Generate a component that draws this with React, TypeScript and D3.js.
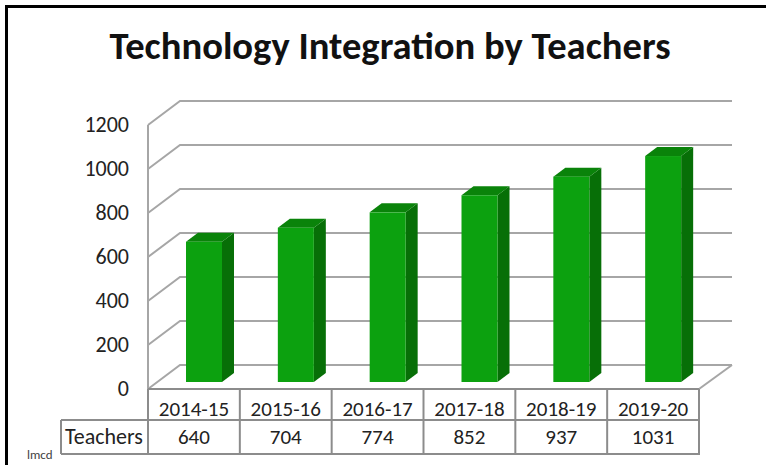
import React from 'react';
import * as d3 from 'd3';

const years = ['2014-15', '2015-16', '2016-17', '2017-18', '2018-19', '2019-20'];
const teachers = [640, 704, 774, 852, 937, 1031];
const yTicks = [0, 200, 400, 600, 800, 1000, 1200];

const W = 766;
const H = 465;
const FONT = 'Calibri, Carlito, "Open Sans", "Noto Sans", sans-serif';

// 3d box offsets
const wallDx = 32;
const wallDy = -24;
const barDx = 12;
const barDy = -9;
const barW = 36;
const barOffset = 38;

const x = d3.scaleBand<string>().domain(years).range([148, 699]);
const yFront = d3.scaleLinear().domain([0, 1200]).range([389, 125]);
const yBar = d3.scaleLinear().domain([0, 1200]).range([382, 119]);

const gridColor = '#a6a6a6';
const tableColor = '#8c8c8c';

export default function App() {
  const x0 = x.range()[0];
  const x1 = x.range()[1];
  const tableTop = 389;
  const tableMid = 420;
  const tableBottom = 454;
  const tableLeft = 61;

  return (
    <svg
      width={W}
      height={H}
      style={{ position: 'absolute', left: 0, top: 0, background: '#fff' }}
      fontFamily={FONT}
    >
      <rect x={0} y={0} width={W} height={H} fill="#fff" />

      <text x={390} y={59} textAnchor="middle" fontSize={38.6} fontWeight="bold" fill="#111">
        Technology Integration by Teachers
      </text>

      {/* walls and gridlines */}
      <g fill="none" stroke={gridColor} strokeWidth={2}>
        {yTicks.map((t) => (
          <polyline
            key={t}
            points={`${x0},${yFront(t)} ${x0 + wallDx},${yFront(t) + wallDy} ${x1 + wallDx + 1},${yFront(t) + wallDy}`}
          />
        ))}
        <line x1={x0} x2={x0} y1={yFront(0)} y2={yFront(1200)} />
        <line x1={x1} y1={yFront(0)} x2={x1 + wallDx + 1} y2={yFront(0) + wallDy} />
      </g>

      {yTicks.map((t) => (
        <text key={t} x={129} y={yFront(t) + 7} textAnchor="end" fontSize={22} fill="#222">
          {t}
        </text>
      ))}

      {/* bars */}
      {years.map((yr, i) => {
        const bx = (x(yr) as number) + barOffset;
        const top = yBar(teachers[i]);
        const base = yBar(0);
        return (
          <g key={yr}>
            <polygon
              points={`${bx + barW},${top} ${bx + barW + barDx},${top + barDy} ${bx + barW + barDx},${base + barDy} ${bx + barW},${base}`}
              fill="#076f07"
            />
            <polygon
              points={`${bx},${top} ${bx + barDx},${top + barDy} ${bx + barW + barDx},${top + barDy} ${bx + barW},${top}`}
              fill="#0a830a"
            />
            <rect x={bx} y={top} width={barW} height={base - top} fill="#0ca10f" />
          </g>
        );
      })}

      {/* data table */}
      <g fill="none" stroke={tableColor} strokeWidth={2}>
        <line x1={x0} x2={x1} y1={tableTop} y2={tableTop} />
        <line x1={tableLeft} x2={x1 + 1} y1={tableMid} y2={tableMid} />
        <line x1={tableLeft} x2={x1 + 1} y1={tableBottom} y2={tableBottom} />
        <line x1={tableLeft} x2={tableLeft} y1={tableMid} y2={tableBottom} />
        <line x1={x0} x2={x0} y1={tableTop} y2={tableBottom} />
        {years.map((yr) => {
          const right = (x(yr) as number) + x.bandwidth();
          return <line key={yr} x1={right} x2={right} y1={tableTop} y2={tableBottom} />;
        })}
      </g>
      {years.map((yr, i) => {
        const cx = (x(yr) as number) + x.bandwidth() / 2;
        return (
          <g key={yr} fontSize={21} fill="#222" textAnchor="middle">
            <text x={cx} y={416}>{yr}</text>
            <text x={cx} y={444}>{teachers[i]}</text>
          </g>
        );
      })}
      <text x={65} y={444} fontSize={22} fill="#222">Teachers</text>
      <text x={27} y={459} fontSize={13} fill="#444">lmcd</text>

      {/* slide border, top and left only */}
      <line x1={5} x2={W} y1={6.5} y2={6.5} stroke="#000" strokeWidth={3} />
      <line x1={6.5} x2={6.5} y1={5} y2={H} stroke="#000" strokeWidth={3} />
    </svg>
  );
}
